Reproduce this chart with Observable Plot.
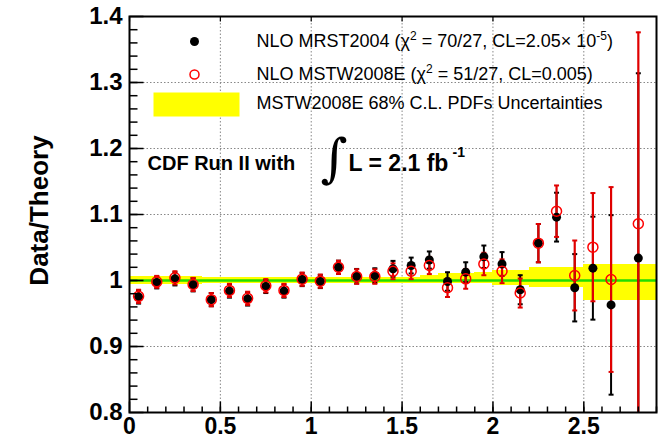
<!DOCTYPE html>
<html><head><meta charset="utf-8">
<script src="https://cdn.jsdelivr.net/npm/d3@7"></script>
<script src="https://cdn.jsdelivr.net/npm/@observablehq/plot@0.6"></script>
<style>
body{margin:0;background:#fff;}
#chart{width:660px;height:439px;}
</style>
</head><body><div id="chart"></div>
<script>
// ---- data ----
const binCenters = [0.05,0.15,0.25,0.35,0.45,0.55,0.65,0.75,0.85,0.95,1.05,1.15,1.25,1.35,1.45,1.55,1.65,1.75,1.85,1.95,2.05,2.15,2.25,2.35,2.45,2.55,2.65,2.8];
const mrst    = [0.975,0.997,1.0025,0.9935,0.971,0.984,0.972,0.991,0.984,1.0015,0.9985,1.020,1.0065,1.0075,1.0177,1.0227,1.031,0.9985,1.0126,1.036,1.025,0.986,1.0566,1.096,0.989,1.0187,0.963,1.034];
const mrstErr = [0.010,0.009,0.010,0.010,0.010,0.010,0.010,0.010,0.010,0.010,0.010,0.010,0.011,0.011,0.012,0.012,0.013,0.014,0.015,0.017,0.018,0.022,0.029,0.037,0.051,0.078,0.136,0.28];
const mstw    = [0.976,0.998,1.004,0.994,0.971,0.985,0.973,0.992,0.985,1.002,0.999,1.020,1.006,1.006,1.014,1.014,1.0227,0.989,1.0025,1.025,1.014,0.981,1.0566,1.105,1.0076,1.0505,1.0015,1.086];
const mstwErr = [0.010,0.009,0.010,0.010,0.010,0.010,0.010,0.010,0.010,0.010,0.010,0.010,0.011,0.011,0.012,0.012,0.013,0.014,0.015,0.017,0.018,0.022,0.029,0.039,0.053,0.082,0.14,0.29];

// PDF uncertainty band (MSTW2008E 68% C.L.), segments
const bandEdges = [0,0.4,1.4,1.5,1.6,1.7,1.8,1.9,2.0,2.2,2.5,2.9];
const bandHi = [0.006,0.0045,0.004,0.005,0.0076,0.010,0.011,0.0125,0.015,0.019,0.025];
const bandLo = [0.006,0.0045,0.0045,0.005,0.005,0.005,0.005,0.005,0.0075,0.010,0.031];

const xTicks = [0,0.5,1,1.5,2,2.5];
const xTickLabels = ["0","0.5","1","1.5","2","2.5"];
const xMinorTicks = d3.range(0.1, 2.9001, 0.1);
const yTicks = [0.8,0.9,1,1.1,1.2,1.3,1.4];
const yTickLabels = ["0.8","0.9","1","1.1","1.2","1.3","1.4"];
const yMinorTicks = d3.range(0.82, 1.3801, 0.02);
const xGrid = [0.5,1,1.5,2,2.5];
const yGrid = [0.9,1.1,1.2,1.3];

const legendLabels = [
  "NLO MRST2004 (\u03C7\u00B2 = 70/27, CL=2.05\u00D7 10\u207B\u2075)",
  "NLO MSTW2008E (\u03C7\u00B2 = 51/27, CL=0.005)",
  "MSTW2008E 68% C.L. PDFs Uncertainties"
];
const annotation = ["CDF Run II with", "\u222B", "L = 2.1 fb", "-1"];
const yTitle = "Data/Theory";

// ---- tables ----
const points = binCenters.map((x,i)=>({x, mrst:mrst[i], mrstErr:mrstErr[i], mstw:mstw[i], mstwErr:mstwErr[i]}));
const band = bandHi.map((h,i)=>({x1:bandEdges[i], x2:bandEdges[i+1], y1:1-bandLo[i], y2:1+h}));

// ---- custom symbols ----
const tickUp = L => ({draw(c){c.moveTo(0,0);c.lineTo(0,-L);}});
const tickDown = L => ({draw(c){c.moveTo(0,0);c.lineTo(0,L);}});
const tickRight = L => ({draw(c){c.moveTo(0,0);c.lineTo(L,0);}});
const cap = w => ({draw(c){c.moveTo(-w,0);c.lineTo(w,0);}});
const boxSym = (w,h) => ({draw(c){c.rect(-w/2,-h/2,w,h);}});

const fmt = (ticks, labels) => d => labels[ticks.findIndex(t=>Math.abs(t-d)<1e-9)];
const RED = "#e00000";

const chart = Plot.plot({
  width: 660, height: 439,
  marginLeft: 129, marginRight: 4, marginTop: 16, marginBottom: 27,
  style: {fontFamily: "'Liberation Sans', Arial, Helvetica, sans-serif", background: "#fff", color: "black"},
  x: {domain: [0, 2.9]},
  y: {domain: [0.8, 1.4]},
  marks: [
    // grid
    Plot.ruleX(xGrid, {x: d=>d, stroke: "#888", strokeDasharray: "1.5,2", strokeWidth: 1}),
    Plot.ruleY(yGrid, {y: d=>d, stroke: "#888", strokeDasharray: "1.5,2", strokeWidth: 1}),
    // band
    Plot.rect(band, {x1:"x1", x2:"x2", y1:"y1", y2:"y2", fill:"#ffff00", shapeRendering:"crispEdges"}),
    Plot.ruleY([1], {y: d=>d, stroke: "#22dd00", strokeWidth: 2.5}),
    // MRST error bars
    Plot.ruleX(points, {x:"x", y1: d=>d.mrst-d.mrstErr, y2: d=>d.mrst+d.mrstErr, stroke:"black", strokeWidth:2, clip:true}),
    Plot.dot(points, {x:"x", y: d=>d.mrst+d.mrstErr, symbol: cap(2.5), stroke:"black", strokeWidth:2, fill:"none", clip:true}),
    Plot.dot(points, {x:"x", y: d=>d.mrst-d.mrstErr, symbol: cap(2.5), stroke:"black", strokeWidth:2, fill:"none", clip:true}),
    // MSTW error bars
    Plot.ruleX(points, {x:"x", y1: d=>d.mstw-d.mstwErr, y2: d=>d.mstw+d.mstwErr, stroke:RED, strokeWidth:2.2, clip:true}),
    Plot.dot(points, {x:"x", y: d=>d.mstw+d.mstwErr, symbol: cap(2.5), stroke:RED, strokeWidth:2, fill:"none", clip:true}),
    Plot.dot(points, {x:"x", y: d=>d.mstw-d.mstwErr, symbol: cap(2.5), stroke:RED, strokeWidth:2, fill:"none", clip:true}),
    // markers
    Plot.dot(points, {x:"x", y:"mrst", r:4.5, fill:"black", stroke:"none"}),
    Plot.dot(points, {x:"x", y:"mstw", r:5, fill:"none", stroke:"#ff0000", strokeWidth:1.5}),
    // frame
    Plot.frame({stroke:"black", strokeWidth:2}),
    // ticks
    Plot.dot(xMinorTicks, {x: d=>d, frameAnchor:"bottom", symbol: tickUp(6), stroke:"black", strokeWidth:1.5, fill:"none"}),
    Plot.dot(xTicks, {x: d=>d, frameAnchor:"bottom", symbol: tickUp(11), stroke:"black", strokeWidth:1.5, fill:"none"}),
    Plot.dot(xTicks, {x: d=>d, frameAnchor:"top", symbol: tickDown(5), stroke:"black", strokeWidth:1.2, fill:"none"}),
    Plot.dot(yMinorTicks, {y: d=>d, frameAnchor:"left", symbol: tickRight(8), stroke:"black", strokeWidth:1.5, fill:"none"}),
    Plot.dot(yTicks, {y: d=>d, frameAnchor:"left", symbol: tickRight(14), stroke:"black", strokeWidth:1.5, fill:"none"}),
    // axis labels
    Plot.axisX({ticks: xTicks, tickSize: 0, tickPadding: 5, tickFormat: fmt(xTicks, xTickLabels), fontSize: 23, fontWeight: "bold", label: null}),
    Plot.axisY({ticks: yTicks, tickSize: 0, tickPadding: 7, tickFormat: fmt(yTicks, yTickLabels), fontSize: 24, fontWeight: "bold", label: null}),
    Plot.text([yTitle], {text: d=>d, frameAnchor:"left", dx: -90, dy: -4, rotate: -90, fontSize: 26, fontWeight: "bold", textAnchor:"middle", lineAnchor:"middle"}),
    // legend
    Plot.dot([0], {frameAnchor:"top-left", dx:65, dy:25, r:4.5, fill:"black", stroke:"none"}),
    Plot.dot([0], {frameAnchor:"top-left", dx:65, dy:58, r:4.5, fill:"none", stroke:"#ff0000", strokeWidth:1.5}),
    Plot.dot([0], {frameAnchor:"top-left", dx:67, dy:88, symbol: boxSym(86,24), fill:"#ffff00", stroke:"none"}),
    Plot.text([legendLabels[0]], {text:d=>d, frameAnchor:"top-left", dx:127, dy:25, textAnchor:"start", lineAnchor:"middle", fontSize:18}),
    Plot.text([legendLabels[1]], {text:d=>d, frameAnchor:"top-left", dx:127, dy:58, textAnchor:"start", lineAnchor:"middle", fontSize:18}),
    Plot.text([legendLabels[2]], {text:d=>d, frameAnchor:"top-left", dx:127, dy:87, textAnchor:"start", lineAnchor:"middle", fontSize:18}),
    // annotation
    Plot.text([annotation[0]], {text:d=>d, frameAnchor:"top-left", dx:18, dy:147, textAnchor:"start", lineAnchor:"middle", fontSize:20, fontWeight:"bold"}),
    Plot.text([annotation[1]], {text:d=>d, frameAnchor:"top-left", dx:191, dy:143, textAnchor:"start", lineAnchor:"middle", fontSize:52, fontFamily:"'DejaVu Serif', 'Liberation Serif', serif"}),
    Plot.text([annotation[2]], {text:d=>d, frameAnchor:"top-left", dx:219, dy:147, textAnchor:"start", lineAnchor:"middle", fontSize:23, fontWeight:"bold"}),
    Plot.text([annotation[3]], {text:d=>d, frameAnchor:"top-left", dx:323, dy:136, textAnchor:"start", lineAnchor:"middle", fontSize:14, fontWeight:"bold"})
  ]
});

// turn Unicode superscripts in the legend into real raised tspans
const supMap = {"\u00B2":"2","\u207B":"-","\u2075":"5","\u00B9":"1"};
chart.querySelectorAll("text").forEach(t => {
  if (t.children.length) return;
  const s = t.textContent;
  if (!/[\u00B2\u207B\u2075]/.test(s) || !legendLabels.includes(s)) return;
  t.textContent = "";
  const parts = s.match(/[\u00B2\u207B\u2075\u00B9]+|[^\u00B2\u207B\u2075\u00B9]+/g);
  parts.forEach(p => {
    const ts = document.createElementNS("http://www.w3.org/2000/svg", "tspan");
    if (supMap[p[0]]) {
      ts.textContent = [...p].map(c => supMap[c]).join("");
      ts.setAttribute("font-size", "12");
      ts.setAttribute("baseline-shift", "7");
    } else {
      ts.textContent = p;
    }
    t.appendChild(ts);
  });
});
document.getElementById("chart").appendChild(chart);
</script>
</body></html>
